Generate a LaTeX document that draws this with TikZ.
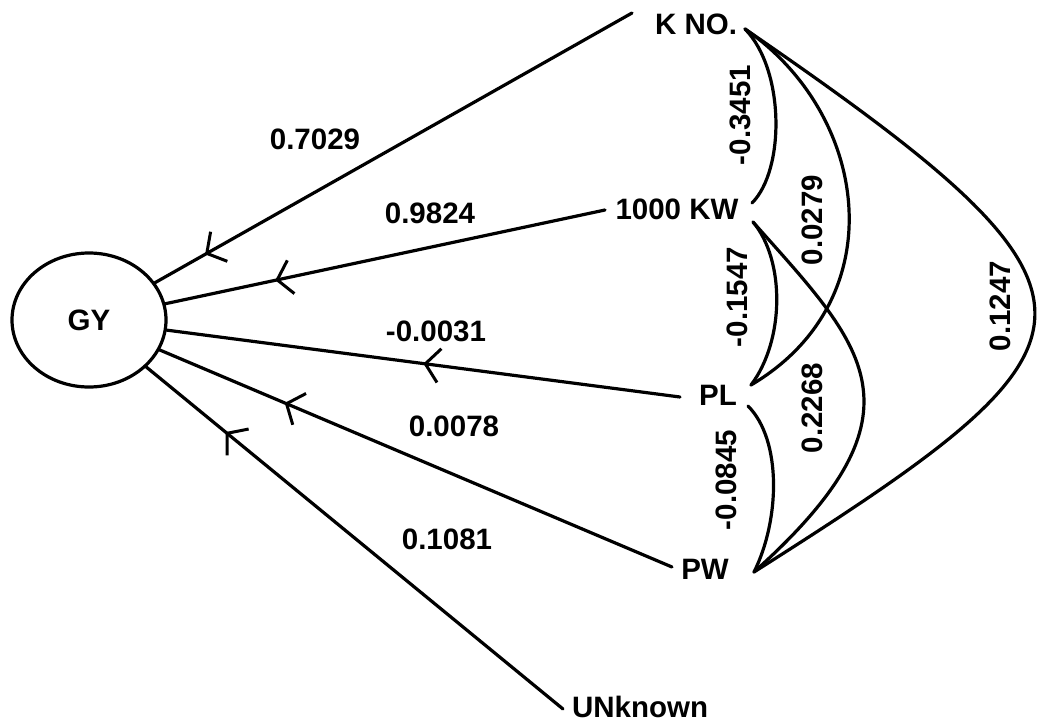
\documentclass[tikz,border=0pt]{standalone}
\usepackage{fontspec}
\setmainfont{Liberation Sans}
\usetikzlibrary{shapes.geometric,arrows.meta,decorations.markings}
\begin{document}
\begin{tikzpicture}[x=1pt,y=-1pt,
  every node/.style={font=\fontsize{29.5}{32}\selectfont\bfseries, inner sep=0pt},
  link/.style={line width=3.2pt, line cap=round},
  barbmid/.style={postaction={decorate},
    decoration={markings, mark=at position #1 with
      {\arrow{Straight Barb[length=14pt,width=34pt,line width=3pt]}}}},
  vcoef/.style={rotate=90}]
\useasboundingbox (0,0) rectangle (1040,723);

% dependent variable
\node[draw, ellipse, line width=3.2pt, minimum width=154pt, minimum height=134pt] (gy) at (89,320) {GY};

% causes
\node (kno) at (696,24) {K NO.};
\node (kw)  at (677,209) {1000 KW};
\node (pl)  at (718,395) {PL};
\node (pw)  at (705,569) {PW};
\node (unk) at (640,707) {UNknown};

% ends of the direct paths
\coordinate (kno-a) at (632,13);
\coordinate (kw-a)  at (605,210);
\coordinate (pl-a)  at (680,397);
\coordinate (pw-a)  at (672,567);
\coordinate (unk-a) at (563,709);

% ends of the correlation arcs
\coordinate (kno-b) at (745,29);
\coordinate (kw-t)  at (752,203);
\coordinate (kw-b)  at (753,222);
\coordinate (pl-t)  at (751,385);
\coordinate (pl-b)  at (748,406);
\coordinate (pw-b)  at (754,572);

% direct effects
\draw[link, barbmid=0.895] (kno-a) -- (gy);
\draw[link, barbmid=0.75]  (kw-a)  -- (gy);
\draw[link, barbmid=0.5]   (pl-a)  -- (gy);
\draw[link, barbmid=0.756] (pw-a)  -- (gy);
\draw[link, barbmid=0.81]  (unk-a) -- (gy);

\node (p1) at (315,139) {0.7029};
\node (p2) at (430,213) {0.9824};
\node (p3) at (436,331) {-0.0031};
\node (p4) at (454,426) {0.0078};
\node (p5) at (447,539) {0.1081};

% correlations between causes
\draw[link] (kno-b) .. controls (785,70) and (785,170) .. (kw-t);
\draw[link] (kno-b) .. controls (870,115) and (895,300) .. (pl-t);
\draw[link] (kno-b) .. controls (1140,300) and (1120,340) .. (pw-b);
\draw[link] (kw-b) .. controls (785,260) and (785,340) .. (pl-t);
\draw[link] (kw-b) .. controls (862,345) and (935,410) .. (pw-b);
\draw[link] (pl-b) .. controls (782,440) and (780,520) .. (pw-b);

\node[vcoef] (r1) at (740,115) {-0.3451};
\node[vcoef] (r2) at (812,220) {0.0279};
\node[vcoef] (r3) at (1000,306) {0.1247};
\node[vcoef] (r4) at (737,297) {-0.1547};
\node[vcoef] (r5) at (812,408) {0.2268};
\node[vcoef] (r6) at (726,480) {-0.0845};
\end{tikzpicture}
\end{document}
